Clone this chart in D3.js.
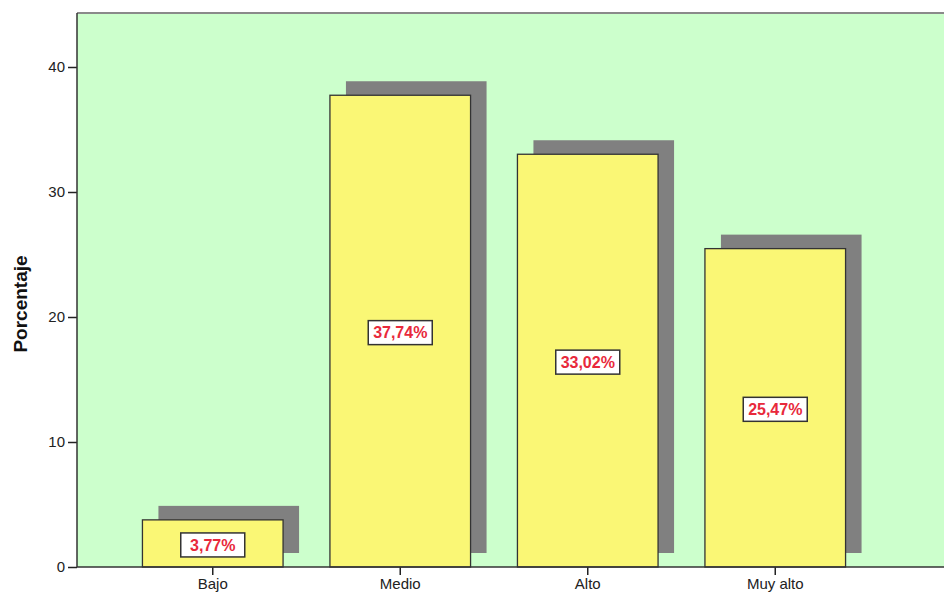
<!DOCTYPE html>
<html>
<head>
<meta charset="utf-8">
<script src="https://cdn.jsdelivr.net/npm/d3@7"></script>
<style>
  body { margin: 0; background: #fff; }
  svg { display: block; font-family: "Liberation Sans", Arial, sans-serif; }
</style>
</head>
<body>
<svg id="chart"></svg>
<script>
const categories = ['Bajo', 'Medio', 'Alto', 'Muy alto'];
const values = [3.77, 37.74, 33.02, 25.47];
const labels = ['3,77%', '37,74%', '33,02%', '25,47%'];
const yTicks = [0, 10, 20, 30, 40];

const svgWidth = 944;
const svgHeight = 594;
const plot = { left: 77, top: 13, bottom: 567, right: 970 };

const svg = d3.select('#chart')
  .attr('width', svgWidth)
  .attr('height', svgHeight);

// Scales
const x = d3.scaleBand()
  .domain(categories)
  .range([119, 869])
  .paddingInner(0.25)
  .paddingOuter(0.125);

const y = d3.scaleLinear()
  .domain([0, 44.32])
  .range([plot.bottom, plot.top]);

// Plot background
svg.append('rect')
  .attr('x', plot.left)
  .attr('y', plot.top)
  .attr('width', plot.right - plot.left)
  .attr('height', plot.bottom - plot.top)
  .attr('fill', '#ccffcc');

// Top border
svg.append('line')
  .attr('x1', plot.left).attr('x2', plot.right)
  .attr('y1', plot.top).attr('y2', plot.top)
  .attr('stroke', '#8a8a8a')
  .attr('stroke-width', 2);

// Shadows
svg.append('g')
  .selectAll('rect')
  .data(values)
  .join('rect')
  .attr('x', (d, i) => x(categories[i]) + 16)
  .attr('y', d => y(d) - 14)
  .attr('width', x.bandwidth())
  .attr('height', d => y(0) - y(d))
  .attr('fill', '#808080');

// Bars
svg.append('g')
  .selectAll('rect')
  .data(values)
  .join('rect')
  .attr('x', (d, i) => x(categories[i]))
  .attr('y', d => y(d))
  .attr('width', x.bandwidth())
  .attr('height', d => y(0) - y(d))
  .attr('fill', '#faf775')
  .attr('stroke', '#333')
  .attr('stroke-width', 1.3);

// Value labels
const lab = svg.append('g')
  .selectAll('g')
  .data(values)
  .join('g')
  .attr('transform', (d, i) =>
    `translate(${x(categories[i]) + x.bandwidth() / 2}, ${(y(d) + y(0)) / 2 + 1.5})`);

lab.append('rect')
  .attr('x', -32)
  .attr('y', -12)
  .attr('width', 64)
  .attr('height', 24)
  .attr('fill', '#fff')
  .attr('stroke', '#333')
  .attr('stroke-width', 1.5);

lab.append('text')
  .attr('text-anchor', 'middle')
  .attr('dy', '0.36em')
  .attr('fill', '#e8293b')
  .attr('font-weight', 'bold')
  .attr('font-size', 16)
  .text((d, i) => labels[i]);

// Y axis
const yAxis = d3.axisLeft(y).tickValues(yTicks).tickSize(9).tickPadding(3);
const gy = svg.append('g')
  .attr('transform', `translate(${plot.left}, 0)`)
  .call(yAxis);
gy.select('.domain').remove();
gy.selectAll('.tick line').attr('stroke', '#222').attr('stroke-width', 1.5);
gy.selectAll('.tick text').attr('font-size', 15).attr('fill', '#222')
  .attr('font-family', '"Liberation Sans", Arial, sans-serif');
svg.append('line')
  .attr('x1', plot.left).attr('x2', plot.left)
  .attr('y1', plot.top).attr('y2', plot.bottom)
  .attr('stroke', '#333')
  .attr('stroke-width', 1.5);

// X axis
const xAxis = d3.axisBottom(x).tickSize(8).tickPadding(3);
const gx = svg.append('g')
  .attr('transform', `translate(0, ${plot.bottom})`)
  .call(xAxis);
gx.select('.domain').remove();
gx.selectAll('.tick line').attr('stroke', '#222').attr('stroke-width', 1.5);
gx.selectAll('.tick text').attr('font-size', 15).attr('fill', '#222')
  .attr('font-family', '"Liberation Sans", Arial, sans-serif');
svg.append('line')
  .attr('x1', plot.left).attr('x2', plot.right)
  .attr('y1', plot.bottom).attr('y2', plot.bottom)
  .attr('stroke', '#333')
  .attr('stroke-width', 1.5);

// Y title
svg.append('text')
  .attr('transform', `translate(27, 304) rotate(-90)`)
  .attr('text-anchor', 'middle')
  .attr('font-weight', 'bold')
  .attr('font-size', 19)
  .attr('fill', '#111')
  .text('Porcentaje');
</script>
</body>
</html>
